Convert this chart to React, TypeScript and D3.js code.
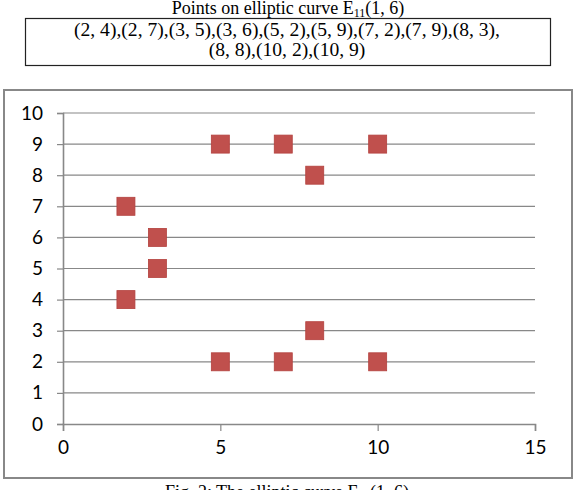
import React, { useEffect, useRef } from "react";
import * as d3 from "d3";

// points on the curve E11(1, 6)
const xs = [2, 2, 3, 3, 5, 5, 7, 7, 8, 8, 10, 10];
const ys = [4, 7, 5, 6, 2, 9, 2, 9, 3, 8, 2, 9];
const xTicks = [0, 5, 10, 15];
const yTicks = [0, 1, 2, 3, 4, 5, 6, 7, 8, 9, 10];
const listLines = [
  "(2, 4),(2, 7),(3, 5),(3, 6),(5, 2),(5, 9),(7, 2),(7, 9),(8, 3),",
  "(8, 8),(10, 2),(10, 9)",
];

export default function App() {
  const ref = useRef<SVGSVGElement>(null);

  useEffect(() => {
    const width = 582;
    const height = 490;
    const margin = { top: 113, right: 47, bottom: 66, left: 63 };
    const serif = "'Liberation Serif', 'Times New Roman', serif";
    const sans = "Lato, 'Open Sans', sans-serif";
    const grid = "#888";

    const svg = d3.select(ref.current).attr("viewBox", [0, 0, width, height]);
    svg.selectAll("*").remove();

    // caption above the list of points
    const title = svg.append("text")
      .attr("x", 288).attr("y", 14)
      .attr("text-anchor", "middle")
      .attr("font-family", serif)
      .attr("font-size", 18);
    title.append("tspan").text("Points on elliptic curve E");
    title.append("tspan").attr("font-size", 12).attr("dy", 3).text("11");
    title.append("tspan").attr("dy", -3).text("(1, 6)");

    svg.append("rect")
      .attr("x", 25.5).attr("y", 18.5)
      .attr("width", 525).attr("height", 47)
      .attr("fill", "none").attr("stroke", "#222").attr("stroke-width", 1.2);

    svg.selectAll(".list-line")
      .data(listLines)
      .join("text")
        .attr("class", "list-line")
        .attr("x", 287)
        .attr("y", (d, i) => 36 + i * 20)
        .attr("text-anchor", "middle")
        .attr("font-family", serif)
        .attr("font-size", 19.6)
        .text(d => d);

    // chart frame
    svg.append("rect")
      .attr("x", 4).attr("y", 90)
      .attr("width", 568).attr("height", 388)
      .attr("fill", "#fff").attr("stroke", grid).attr("stroke-width", 2);

    const x = d3.scaleLinear()
      .domain([0, 15])
      .range([margin.left, width - margin.right]);

    const y = d3.scaleLinear()
      .domain([0, 10])
      .range([height - margin.bottom, margin.top]);

    // horizontal gridlines
    svg.append("g")
      .selectAll("line")
      .data(yTicks.filter(d => d > 0))
      .join("line")
        .attr("x1", x(0)).attr("x2", x(15))
        .attr("y1", d => y(d)).attr("y2", d => y(d))
        .attr("stroke", grid).attr("stroke-width", 1.2);

    const yAxis = svg.append("g")
      .attr("transform", `translate(${x(0)},0)`)
      .call(d3.axisLeft(y).tickValues(yTicks).tickSize(6).tickPadding(14).tickFormat(d3.format("d")));

    const xAxis = svg.append("g")
      .attr("transform", `translate(0,${y(0)})`)
      .call(d3.axisBottom(x).tickValues(xTicks).tickSize(7).tickPadding(10).tickFormat(d3.format("d")));

    [yAxis, xAxis].forEach(g => {
      g.select(".domain").attr("stroke", grid).attr("stroke-width", 1.6);
      g.selectAll(".tick line").attr("stroke", grid).attr("stroke-width", 1.2);
      g.selectAll(".tick text")
        .attr("fill", "#000")
        .attr("font-family", sans)
        .attr("font-size", 19);
    });

    // markers
    const size = 18;
    svg.append("g")
      .selectAll("rect")
      .data(xs.map((v, i) => ({ x: v, y: ys[i] })))
      .join("rect")
        .attr("x", d => x(d.x) - size / 2)
        .attr("y", d => y(d.y) - size / 2)
        .attr("width", size).attr("height", size)
        .attr("fill", "#c0504d")
        .attr("stroke", "#b3413e").attr("stroke-width", 0.8);

    // figure caption, clipped by the bottom edge
    const cap = svg.append("text")
      .attr("x", 287).attr("y", 498)
      .attr("text-anchor", "middle")
      .attr("font-family", serif)
      .attr("font-size", 18);
    cap.append("tspan").text("Fig. 2: The elliptic curve E");
    cap.append("tspan").attr("font-size", 12).attr("dy", 3).text("11");
    cap.append("tspan").attr("dy", -3).text("(1, 6)");
  }, []);

  return (
    <svg
      ref={ref}
      width={582}
      height={490}
      style={{ position: "absolute", left: 0, top: 0, display: "block", background: "#fff" }}
    />
  );
}
